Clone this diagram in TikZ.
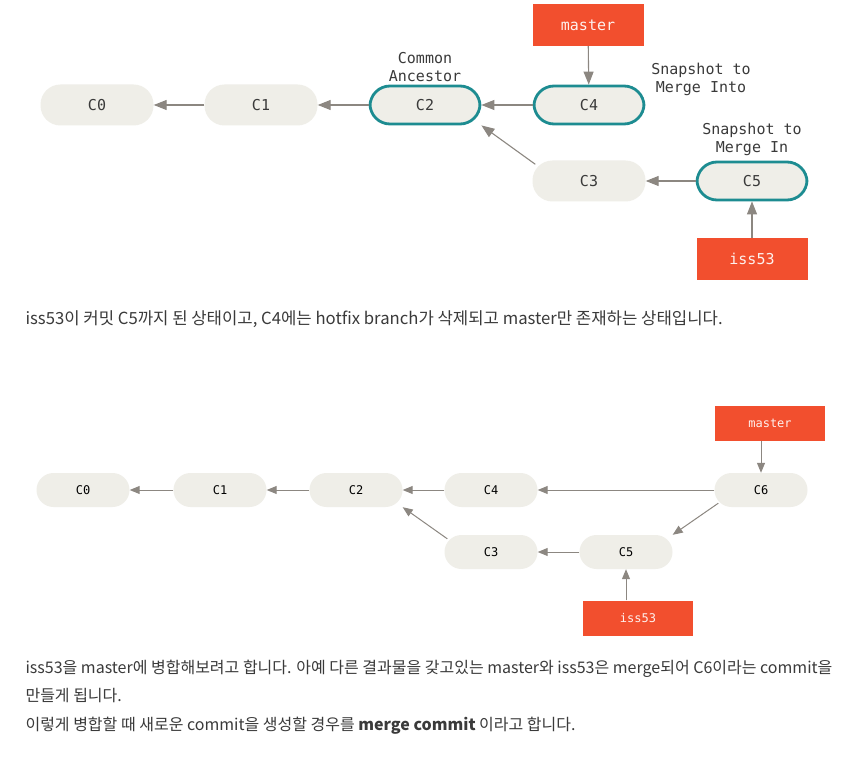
\documentclass[tikz,border=0pt]{standalone}
\usepackage{fontspec}
\newfontfamily\krfont{Noto Sans CJK KR}
\newfontfamily\monofont{DejaVu Sans Mono}
\usetikzlibrary{arrows.meta}
\definecolor{commitfill}{HTML}{EFEEE8}
\definecolor{snapline}{HTML}{1D8C91}
\definecolor{branchred}{HTML}{F24F2E}
\definecolor{arrowgrey}{HTML}{8C8781}
\definecolor{inktext}{HTML}{3A3A3A}
\begin{document}
\begin{tikzpicture}[x=1pt, y=-1pt,
    commit/.style={fill=commitfill, rounded corners=20pt, minimum width=113pt, minimum height=41pt,
      inner sep=0pt, text=inktext, font=\monofont\fontsize{15}{17}\selectfont},
    snapshot/.style={commit, draw=snapline, line width=2.8pt, minimum width=110pt, minimum height=38pt},
    branch/.style={fill=branchred, minimum width=111pt, minimum height=42pt, inner sep=0pt,
      text=white!92!branchred, font=\monofont\fontsize{15}{17}\selectfont},
    smallcommit/.style={fill=commitfill, rounded corners=17pt, minimum width=93pt, minimum height=34pt,
      inner sep=0pt, text=black, font=\monofont\fontsize{12}{13}\selectfont},
    smallbranch/.style={fill=branchred, minimum width=110pt, minimum height=35pt, inner sep=0pt,
      text=white!92!branchred, font=\monofont\fontsize{12}{13}\selectfont},
    note/.style={align=center, text=inktext, font=\monofont\fontsize{15}{18}\selectfont},
    parent/.style={draw=arrowgrey, line width=1.1pt, -{Triangle[length=13pt,width=10pt]}},
    smallparent/.style={draw=arrowgrey, line width=1pt, -{Triangle[length=10pt,width=8pt]}},
    body/.style={anchor=west, align=left, text=inktext, font=\krfont\fontsize{16}{28.5}\selectfont}]
  \useasboundingbox[fill=white] (0,0) rectangle (854,762);

  % before the merge
  \node[commit] (c0) at (97,105) {C0};
  \node[commit] (c1) at (261,105) {C1};
  \node[snapshot] (c2) at (425,105) {C2};
  \node[snapshot] (c4) at (589,105) {C4};
  \node[commit] (c3) at (589,181) {C3};
  \node[snapshot] (c5) at (752,181) {C5};
  \node[branch] (master) at (588,25) {master};
  \node[branch] (iss) at (752,259) {iss53};
  \node[note] (ancestor) at (425,67) {Common\\Ancestor};
  \node[note] (into) at (701,79) {Snapshot to\\Merge Into};
  \node[note] (in) at (752,139) {Snapshot to\\Merge In};

  \foreach \from/\to in {c1/c0, c2/c1, c4/c2, c5/c3, master/c4, iss/c5}
    \draw[parent] (\from) -- (\to);
  \draw[parent] (c3.north west) ++(3,4) -- (c2.south east);

  \node[body, font=\krfont\fontsize{16.7}{28.5}\selectfont] (text1) at (22,319) {iss53이 커밋 C5까지 된 상태이고, C4에는 hotfix branch가 삭제되고 master만 존재하는 상태입니다.};

  % after the merge
  \node[smallcommit] (m0) at (83,490) {C0};
  \node[smallcommit] (m1) at (220,490) {C1};
  \node[smallcommit] (m2) at (356,490) {C2};
  \node[smallcommit] (m4) at (491,490) {C4};
  \node[smallcommit] (m6) at (761,490) {C6};
  \node[smallcommit] (m3) at (491,552) {C3};
  \node[smallcommit] (m5) at (626,552) {C5};
  \node[smallbranch] (mmaster) at (770,423) {master};
  \node[smallbranch] (miss) at (638,618) {iss53};

  \foreach \from/\to in {m1/m0, m2/m1, m4/m2, m6/m4, m5/m3}
    \draw[smallparent] (\from) -- (\to);
  \draw[smallparent] (m3.north west) ++(3,4) -- (m2.south east);
  \draw[smallparent] (m6.south west) ++(4,-4) -- (m5.north east);
  \draw[smallparent] (mmaster.south -| m6) -- (m6);
  \draw[smallparent] (miss.north -| m5) -- (m5);

  \node[body] (text2) at (22,697) {iss53을 master에 병합해보려고 합니다. 아예 다른 결과물을 갖고있는 master와 iss53은 merge되어 C6이라는 commit을\\
    만들게 됩니다.\\
    이렇게 병합할 때 새로운 commit을 생성할 경우를 \textbf{merge commit} 이라고 합니다.};
\end{tikzpicture}
\end{document}
